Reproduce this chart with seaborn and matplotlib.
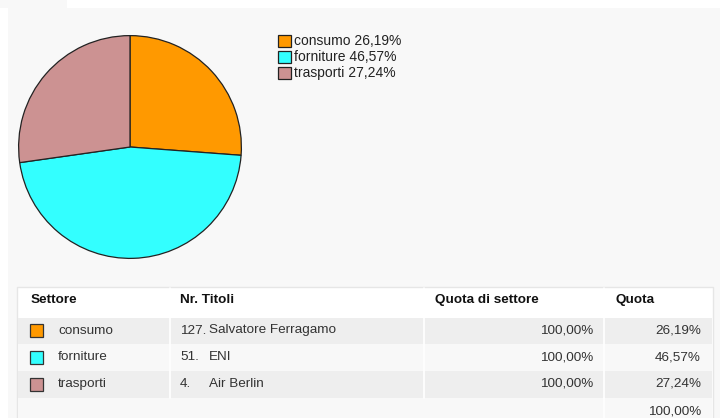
import matplotlib
matplotlib.use("Agg")
import matplotlib.pyplot as plt
from matplotlib.patches import Rectangle
import seaborn as sns

# ---- data ----
sectors = ["consumo", "forniture", "trasporti"]
quota = [26.19, 46.57, 27.24]
quota_settore = [100.00, 100.00, 100.00]
nr_titoli = ["127.", "51.", "4."]
titoli = ["Salvatore Ferragamo", "ENI", "Air Berlin"]
colors = ["#ff9900", "#33ffff", "#cc9292"]
headers = ["Settore", "Nr. Titoli", "Quota di settore", "Quota"]
total = 100.00

def it(v):
    return f"{v:.2f}".replace(".", ",") + "%"

sns.set_theme(style="white")
plt.rcParams["font.family"] = ["Liberation Sans", "DejaVu Sans"]

W, H = 720, 418
FS = 9.7
fig = plt.figure(figsize=(W / 100, H / 100), dpi=100)
fig.patch.set_facecolor("#f8f8f8")

# background / layout axes in pixel coordinates
bg = fig.add_axes([0, 0, 1, 1])
bg.set_xlim(0, W)
bg.set_ylim(H, 0)
bg.axis("off")
bg.add_patch(Rectangle((67, 0), W - 67, 8, color="white", lw=0))
bg.add_patch(Rectangle((0, 8), 8, H - 8, color="white", lw=0))

# legend
for i, (s, q, c) in enumerate(zip(sectors, quota, colors)):
    y = 41 + i * 16
    bg.add_patch(Rectangle((278, y - 6), 13, 12, facecolor=c, edgecolor="#222222", lw=0.9))
    bg.text(294, y, f"{s} {it(q)}", fontsize=10, va="center", ha="left", color="#222222")

# table
x0, x1 = 18, 712
cols = [18, 170, 424, 604, 712]
rows = [288, 318, 344, 371, 398, 418]
bg.add_patch(Rectangle((x0 - 1, rows[0] - 1), x1 - x0 + 2, H - rows[0] + 2,
                       facecolor="white", edgecolor="#e6e6e6", lw=1))
row_bg = ["#eeeeee", "#f8f8f8", "#eeeeee"]
for r in range(3):
    bg.add_patch(Rectangle((x0, rows[r + 1]), x1 - x0, rows[r + 2] - rows[r + 1],
                           facecolor=row_bg[r], lw=0))
bg.add_patch(Rectangle((x0, rows[4]), x1 - x0, rows[5] - rows[4], facecolor="#f8f8f8", lw=0))
for cx in cols[1:-1]:
    bg.plot([cx, cx], [rows[0], rows[4]], color="white", lw=1.2)
bg.plot([cols[3], cols[3]], [rows[4], rows[5]], color="white", lw=1.2)

hx = [31, 180, 435, 615]
for h, x in zip(headers, hx):
    bg.text(x, 300, h, fontsize=FS, fontweight="bold", va="center", ha="left", color="#111111")

for i in range(3):
    yc = (rows[i + 1] + rows[i + 2]) / 2 - 0.5
    bg.add_patch(Rectangle((29.5, yc - 6.5), 13, 13, facecolor=colors[i], edgecolor="#333333", lw=0.9))
    bg.text(58, yc, sectors[i], fontsize=FS, va="center", ha="left", color="#333333")
    bg.text(180, yc, nr_titoli[i], fontsize=FS, va="center", ha="left", color="#333333")
    bg.text(209, yc, titoli[i], fontsize=FS, va="center", ha="left", color="#333333")
    bg.text(593, yc, it(quota_settore[i]), fontsize=FS, va="center", ha="right", color="#333333")
    bg.text(701, yc, it(quota[i]), fontsize=FS, va="center", ha="right", color="#333333")
bg.text(701, 411, it(total), fontsize=FS, va="center", ha="right", color="#333333")

# pie
cx, cy, r = 130, 147, 112.5
pax = fig.add_axes([(cx - r) / W, 1 - (cy + r) / H, 2 * r / W, 2 * r / H])
pax.pie(quota, colors=colors, startangle=90, counterclock=False,
        wedgeprops=dict(edgecolor="#222222", linewidth=0.9))
pax.set_xlim(-1.01, 1.01)
pax.set_ylim(-1.01, 1.01)
pax.axis("off")

fig.savefig("out.png", dpi=100, facecolor=fig.get_facecolor())
